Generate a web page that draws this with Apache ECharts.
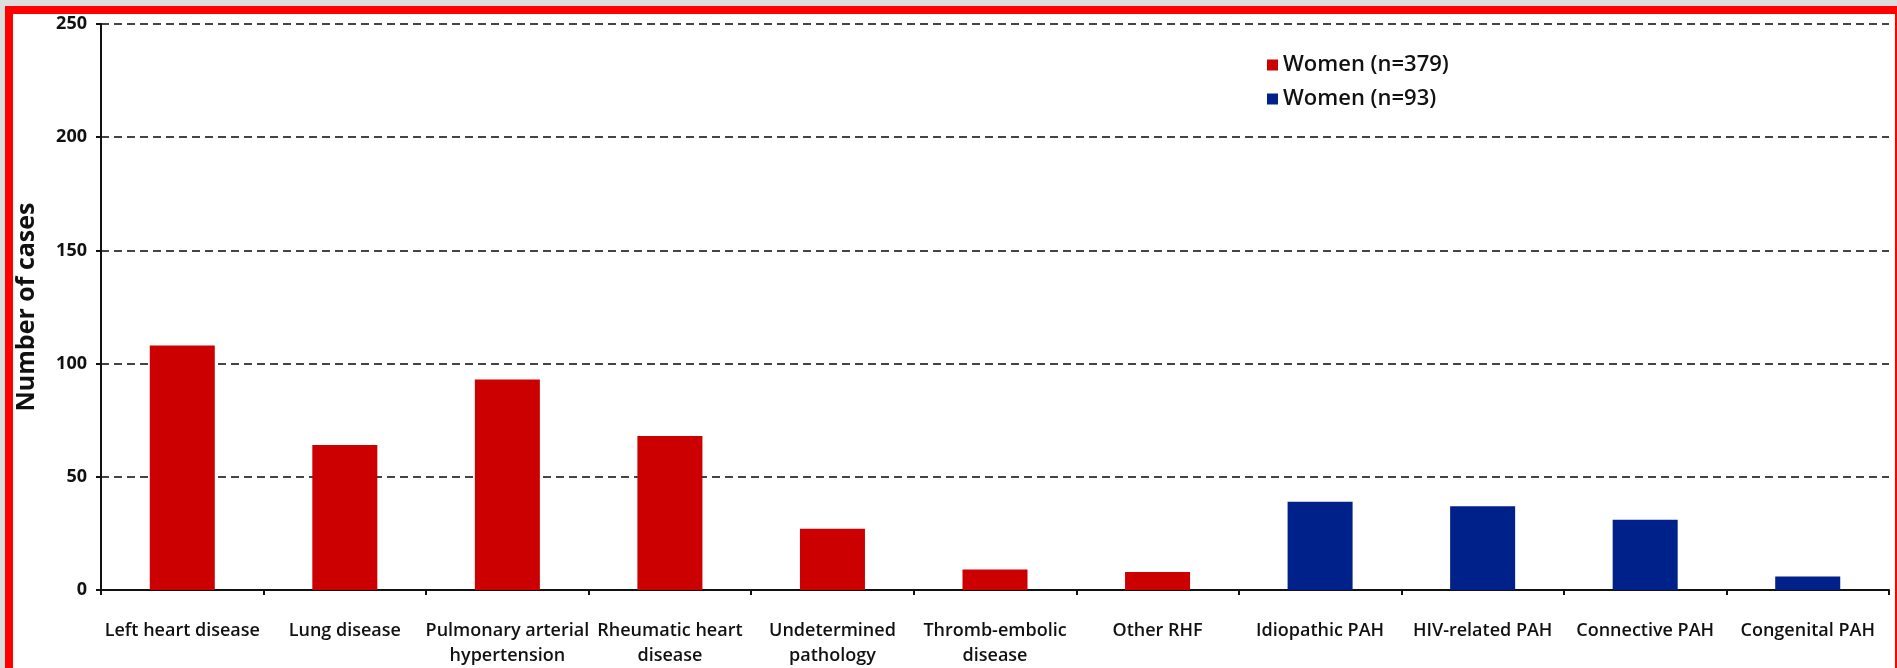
<!DOCTYPE html>
<html>
<head>
<meta charset="utf-8">
<script src="https://cdn.jsdelivr.net/npm/echarts@6/dist/echarts.min.js"></script>
<style>
  html, body { margin: 0; padding: 0; background: #dcdcdc; width: 1897px; height: 668px; overflow: hidden; }
  #frame { position: absolute; left: 5px; top: 6px; width: 1882px; height: 654px; background: #fff;
           border-left: 8px solid #ff0000; border-top: 8px solid #ff0000; border-right: 2px solid #ff0000; border-bottom: 8px solid #ff0000; }
  #chart { position: absolute; left: 0; top: 0; width: 1897px; height: 668px; }
</style>
</head>
<body>
<div id="frame"></div>
<div id="chart"></div>
<script>
const categories = [
  'Left heart disease', 'Lung disease', 'Pulmonary arterial\nhypertension', 'Rheumatic heart\ndisease',
  'Undetermined\npathology', 'Thromb-embolic\ndisease', 'Other RHF', 'Idiopathic PAH',
  'HIV-related PAH', 'Connective PAH', 'Congenital PAH'
];
const redName = 'Women (n=379)';
const blueName = 'Women (n=93)';
const redValues = [108, 64, 93, 68, 27, 9, 8, null, null, null, null];
const blueValues = [null, null, null, null, null, null, null, 39, 37, 31, 6];
const yTicks = { min: 0, max: 250, interval: 50 };
const yTitle = 'Number of cases';

const chart = echarts.init(document.getElementById('chart'), null, { renderer: 'canvas' });
const font = '"Open Sans", Lato, sans-serif';
chart.setOption({
  backgroundColor: 'transparent',
  animation: false,
  textStyle: { fontFamily: font },
  grid: { left: 101, right: 8, top: 24, bottom: 77, containLabel: false },
  legend: {
    orient: 'vertical', left: 1262, top: 46,
    icon: 'rect', itemWidth: 11, itemHeight: 11, itemGap: 6,
    textStyle: { fontFamily: font, fontSize: 22, fontWeight: 600, color: '#111', lineHeight: 28 },
    data: [redName, blueName]
  },
  xAxis: {
    type: 'category', data: categories,
    axisLine: { lineStyle: { color: '#111', width: 2 } },
    axisTick: { show: true, length: 5, lineStyle: { color: '#111', width: 2 } },
    axisLabel: { interval: 0, margin: 28, fontSize: 18, fontWeight: 600, lineHeight: 25, color: '#111', fontFamily: font }
  },
  yAxis: {
    type: 'value', min: yTicks.min, max: yTicks.max, interval: yTicks.interval,
    name: yTitle, nameLocation: 'middle', nameGap: 62,
    nameTextStyle: { fontSize: 25, fontWeight: 'bold', color: '#111', fontFamily: font },
    axisLine: { show: true, lineStyle: { color: '#111', width: 2 } },
    axisTick: { show: true, length: 5, lineStyle: { color: '#111', width: 2 } },
    axisLabel: { margin: 14, fontSize: 18, fontWeight: 'bold', color: '#111', fontFamily: font },
    splitLine: { show: true, lineStyle: { color: '#444', width: 2, type: [8, 5] } }
  },
  series: [
    { name: redName, type: 'bar', stack: 'all', data: redValues, barWidth: '40%', itemStyle: { color: '#cc0000' } },
    { name: blueName, type: 'bar', stack: 'all', data: blueValues, barWidth: '40%', itemStyle: { color: '#00218a' } }
  ]
});
</script>
</body>
</html>
